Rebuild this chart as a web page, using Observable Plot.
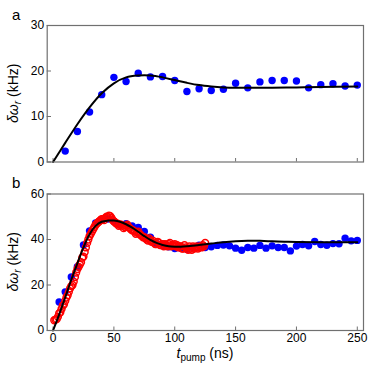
<!DOCTYPE html>
<html><head><meta charset="utf-8">
<script src="https://cdn.jsdelivr.net/npm/d3@7"></script>
<script src="https://cdn.jsdelivr.net/npm/@observablehq/plot@0.6"></script>
<style>
body{margin:0;background:#fff;}
#c{position:relative;width:377px;height:377px;overflow:hidden;font-family:Arial,"Liberation Sans",sans-serif;}
#c svg{position:absolute;left:0;}
</style></head><body><div id="c"></div>
<script>
// ---- shared ----
const xTicks = [0, 50, 100, 150, 200, 250];
const yTicksA = [0, 10, 20, 30];
const yTicksB = [0, 20, 40, 60];

// ---- panel a: measured points ----
const tA = [10,20,30,40,50,60,70,80,90,100,110,120,130,140,150,160,170,180,190,200,210,220,230,240,250];
const yA = [2.4,6.7,11.0,14.8,18.6,17.7,19.5,18.7,18.8,17.9,15.5,16.1,15.7,16.0,17.3,16.3,17.6,17.9,17.9,17.8,16.3,17.0,17.2,16.7,16.9];
// ---- panel a: fit curve ----
const fitTA = [0,10,20,30,40,50,60,70,80,90,100,110,120,130,140,150,160,180,200,220,250];
const fitYA = [0,4.2,8.3,12.0,15.1,17.3,18.6,19.0,19.0,18.6,18.0,17.4,16.9,16.6,16.4,16.3,16.3,16.3,16.4,16.5,16.6];

// ---- panel b: blue filled points ----
const tB = [5,10,15,20,25,30,35,40,45,50,55,60,65,70,75,80,85,90,95,100,105,110,115,120,125,130,135,140,145,150,155,160,165,170,175,180,185,190,195,200,205,210,215,220,225,230,235,240,245,250];
const yB = [12.5,17.0,23.5,28.0,37.6,43.8,47.3,48.5,49.0,48.0,46.5,47.0,46.0,45.3,43.5,41.0,38.3,37.5,36.8,36.0,36.2,35.7,36.5,37.5,36.5,36.8,37.4,37.6,37.2,36.2,35.3,36.5,36.2,37.4,36.2,37.2,36.5,36.5,35.0,37.1,37.8,37.2,39.1,37.8,37.5,38.2,38.1,40.6,39.4,39.6];
// ---- panel b: red open circles (odd ns) ----
const tR = [1,3,5,7,9,11,13,15,17,19,21,23,25,27,29,31,33,35,37,39,41,43,45,47,49,51,53,55,57,59,61,63,65,67,69,71,73,75,77,79,81,83,85,87,89,91,93,95,97,99,101,103,105,107,109,111,113,115,117,119,121,123,125];
const yR = [4.5,5.0,7.5,9.5,11.5,14.5,17.0,19.5,21.5,25.5,28.0,30.0,32.5,36.5,40.0,42.5,44.5,46.5,47.5,48.5,49.0,49.5,49.8,50.3,48.5,47.5,47.0,46.5,46.0,45.5,46.5,45.0,44.0,43.5,43.0,42.5,41.5,41.0,40.0,40.5,39.0,38.5,38.0,38.5,37.5,37.0,37.5,38.0,37.0,37.5,37.0,36.5,37.0,36.0,36.5,35.5,36.0,37.0,36.5,36.0,37.0,37.5,38.5];
// ---- panel b: red open circles (even ns) ----
const tR2 = [2,4,6,8,10,12,14,16,18,20,22,24,26,28,30,32,34,36,38,40,42,44,46,48,50,52,54,56,58,60,62,64,66,68,70,72,74,76,78,80,82,84,86,88,90,92,94,96,98,100,102,104,106,108,110,112,114,116,118,120,122,124];
const yR2 = [4.8,6.0,8.0,11.0,13.0,15.5,18.5,20.0,23.5,27.0,29.0,32.0,34.5,38.5,41.5,43.5,45.5,47.0,48.0,49.0,48.5,50.0,50.5,49.5,48.0,47.0,46.0,46.5,45.0,46.0,45.5,44.5,44.0,42.5,43.5,42.0,41.0,40.5,39.5,39.5,39.5,38.0,39.0,37.5,38.0,38.0,37.0,38.5,37.5,38.0,37.5,37.0,36.0,37.5,36.0,37.0,35.5,36.0,37.0,36.5,36.5,37.0];
// ---- panel b: fit curve ----
const fitTB = [0,5,10,15,20,25,30,35,40,45,50,55,60,65,70,75,80,85,90,95,100,105,110,120,130,140,150,160,170,180,190,200,220,250];
const fitYB = [0,7.0,14.5,22.3,29.5,36.5,42.3,46.0,47.8,48.3,48.3,47.8,46.7,45.2,43.4,41.5,39.8,38.5,37.6,37.0,36.8,36.8,37.0,37.6,38.2,38.8,39.2,39.4,39.4,39.2,39.0,38.9,38.8,38.8];

const zip = (xs, ys) => xs.map((x, i) => ({x, y: ys[i]}));
const ptsA = zip(tA, yA), fitA = zip(fitTA, fitYA);
const ptsB = zip(tB, yB), fitB = zip(fitTB, fitYB);
const ptsR = zip(tR, yR).concat(zip(tR2, yR2)).sort((a, b) => a.x - b.x);

const W = 377;
const frameColor = "#707070";
const xDomain = [-4.8, 255.1];
const style = {fontFamily: "Arial, 'Liberation Sans', sans-serif", fontSize: "12px", color: "#000", background: "transparent", overflow: "visible"};

// panel a
const hA = 175, mtA = 25, mbA = 13.5, mlA = 46.7, mrA = 14;
const fhA = hA - mtA - mbA;
const plotA = Plot.plot({
  width: W, height: hA, marginTop: mtA, marginBottom: mbA, marginLeft: mlA, marginRight: mrA,
  style,
  x: {domain: xDomain, axis: null},
  y: {domain: [0, 30]},
  marks: [
    Plot.axisY(yTicksA, {tickSize: 0, tickPadding: 3, label: null, fontSize: 12}),
    Plot.tickX(xTicks, {x: d => d, stroke: frameColor, insetTop: fhA - 3.5}),
    Plot.tickY(yTicksA, {y: d => d, stroke: frameColor, insetRight: 315 - 3}),
    Plot.dot(ptsA, {x: "x", y: "y", r: 3.7, fill: "#0000ff", stroke: "none"}),
    Plot.line(fitA, {x: "x", y: "y", stroke: "#000", strokeWidth: 2, curve: "catmull-rom"}),
    Plot.frame({stroke: frameColor, strokeWidth: 1.2})
  ]
});
plotA.style.top = "0px";

// panel b
const topB = 175, hB = 202, mtB = 18.5, mbB = 47, mlB = 46.7, mrB = 14;
const fhB = hB - mtB - mbB;
const plotB = Plot.plot({
  width: W, height: hB, marginTop: mtB, marginBottom: mbB, marginLeft: mlB, marginRight: mrB,
  style,
  x: {domain: xDomain},
  y: {domain: [0, 60]},
  marks: [
    Plot.axisY(yTicksB, {tickSize: 0, tickPadding: 3, label: null, fontSize: 12}),
    Plot.axisX(xTicks, {tickSize: 0, tickPadding: 3, label: null, fontSize: 12}),
    Plot.tickX(xTicks, {x: d => d, stroke: frameColor, insetTop: fhB - 3.5}),
    Plot.tickY(yTicksB, {y: d => d, stroke: frameColor, insetRight: 315 - 3}),
    Plot.dot(ptsB, {x: "x", y: "y", r: 3.7, fill: "#0000ff", stroke: "none"}),
    Plot.dot(ptsR, {x: "x", y: "y", r: 3.4, fill: "none", stroke: "#ff0000", strokeWidth: 1.5}),
    Plot.line(fitB, {x: "x", y: "y", stroke: "#000", strokeWidth: 2, curve: "catmull-rom"}),
    Plot.frame({stroke: frameColor, strokeWidth: 1.2})
  ]
});
plotB.style.top = topB + "px";

const c = document.getElementById("c");
c.appendChild(plotA);
c.appendChild(plotB);

// overlay text labels (panel letters, axis titles with sub/italic)
const ov = d3.select(c).append("svg")
  .attr("width", W).attr("height", W)
  .style("position", "absolute").style("left", 0).style("top", 0)
  .style("font-family", "Arial, 'Liberation Sans', sans-serif");
ov.append("text").attr("x", 12).attr("y", 20).attr("font-size", 15).text("a");
ov.append("text").attr("x", 12).attr("y", 188).attr("font-size", 15).text("b");

function yLabel(cx, cy) {
  const t = ov.append("text").attr("transform", `translate(${cx},${cy}) rotate(-90)`)
    .attr("text-anchor", "middle").attr("font-size", 14);
  t.append("tspan").attr("font-style", "italic").text("δω");
  t.append("tspan").attr("font-style", "italic").attr("font-size", 10).attr("dy", 3).text("r");
  t.append("tspan").attr("dy", -3).text(" (kHz)");
}
yLabel(18, mtA + fhA / 2);
yLabel(18, topB + mtB + fhB / 2);

const xl = ov.append("text").attr("x", 205).attr("y", 358).attr("text-anchor", "middle").attr("font-size", 14);
xl.append("tspan").attr("font-style", "italic").text("t");
xl.append("tspan").attr("font-size", 10).attr("dy", 3).text("pump");
xl.append("tspan").attr("dy", -3).text(" (ns)");
</script></body></html>
